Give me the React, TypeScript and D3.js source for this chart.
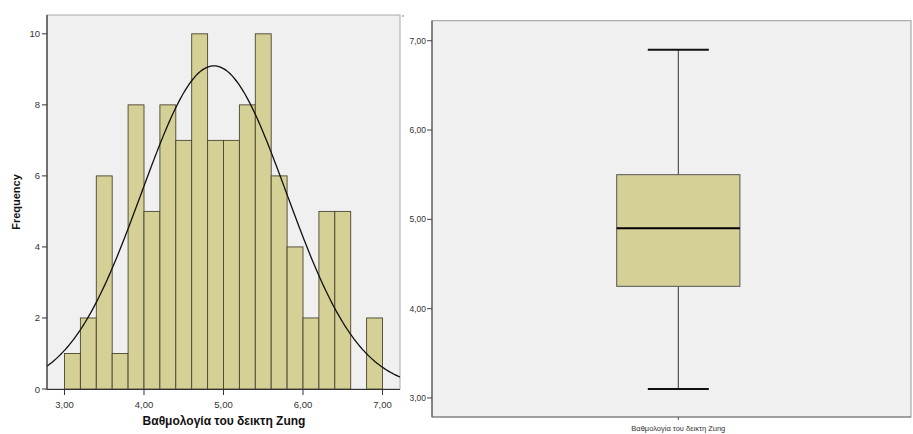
import React from 'react';
import * as d3 from 'd3';

// histogram bins (lower edge) and counts
const binStarts = [3.0, 3.2, 3.4, 3.6, 3.8, 4.0, 4.2, 4.4, 4.6, 4.8, 5.0, 5.2, 5.4, 5.6, 5.8, 6.0, 6.2, 6.4, 6.6, 6.8];
const binCounts = [1, 2, 6, 1, 8, 5, 8, 7, 10, 7, 7, 8, 10, 6, 4, 2, 5, 5, 0, 2];
const binWidth = 0.2;

// normal curve parameters
const sampleN = 104;
const sampleMean = 4.88;
const sampleSd = 0.912;

// box plot summary
const boxStats = { min: 3.1, q1: 4.25, median: 4.9, q3: 5.5, max: 6.9 };

const histXTicks = [3, 4, 5, 6, 7];
const histYTicks = [0, 2, 4, 6, 8, 10];
const boxYTicks = [3, 4, 5, 6, 7];

const xTitle = 'Βαθμολογία του δεικτη Zung';
const yTitle = 'Frequency';

const font = 'Arial, "Liberation Sans", sans-serif';
const barFill = '#d5d096';
const plotBg = '#f0f0f0';

const fmt = (v: number) => v.toFixed(2).replace('.', ',');

export default function App() {
  // histogram panel
  const hx = d3.scaleLinear().domain([2.78, 7.22]).range([47, 400]);
  const hy = d3.scaleLinear().domain([0, 10.53]).range([389, 15]);

  const curvePts = d3.range(2.78, 7.2201, 0.02).map((v) => {
    const z = (v - sampleMean) / sampleSd;
    const f = (sampleN * binWidth) / (sampleSd * Math.sqrt(2 * Math.PI)) * Math.exp(-0.5 * z * z);
    return [v, f] as [number, number];
  });
  const curve = d3.line<[number, number]>()
    .x((d) => hx(d[0]))
    .y((d) => hy(d[1]))
    .curve(d3.curveBasis)(curvePts);

  // box plot panel
  const by = d3.scaleLinear().domain([2.787, 7.224]).range([417, 20.7]);
  const bx = 678.3;
  const boxHalf = 61.6;
  const capHalf = 30.5;

  return (
    <div style={{ position: 'absolute', left: 0, top: 0 }}>
      <svg width={913} height={434} style={{ display: 'block', background: '#fff' }} fontFamily={font}>
        {/* ---- histogram ---- */}
        <rect x={hx.range()[0]} y={hy.range()[1]} width={hx.range()[1] - hx.range()[0]} height={hy.range()[0] - hy.range()[1]}
          fill={plotBg} stroke="#a8a8a8" strokeWidth={1} />
        {binStarts.map((b, i) => binCounts[i] > 0 && (
          <rect key={i} x={hx(b)} y={hy(binCounts[i])} width={hx(b + binWidth) - hx(b)} height={hy(0) - hy(binCounts[i])}
            fill={barFill} stroke="#4a4530" strokeWidth={0.9} />
        ))}
        <path d={curve || ''} fill="none" stroke="#111" strokeWidth={1.3} />
        <line x1={47} x2={47} y1={15} y2={389.5} stroke="#333" strokeWidth={1.2} />
        <line x1={47} x2={400} y1={389.5} y2={389.5} stroke="#333" strokeWidth={1.2} />
        {histYTicks.map((t) => (
          <g key={t}>
            <line x1={42} x2={47} y1={hy(t)} y2={hy(t)} stroke="#333" />
            <text x={40} y={hy(t) + 3.5} fontSize={9.5} textAnchor="end" fill="#333">{t}</text>
          </g>
        ))}
        {histXTicks.map((t) => (
          <g key={t}>
            <line x1={hx(t)} x2={hx(t)} y1={389.5} y2={395} stroke="#333" />
            <text x={hx(t)} y={408} fontSize={9.5} textAnchor="middle" fill="#333">{fmt(t)}</text>
          </g>
        ))}
        <text transform={`translate(20,${(15 + 389) / 2}) rotate(-90)`} fontSize={11} fontWeight="bold" textAnchor="middle" fill="#111">{yTitle}</text>
        <text x={224} y={425} fontSize={12} fontWeight="bold" textAnchor="middle" fill="#111">{xTitle}</text>
        <circle cx={403} cy={16} r={0.7} fill="#555" />

        {/* ---- box plot ---- */}
        <rect x={432} y={20.7} width={479} height={396.3} fill={plotBg} stroke="#999" strokeWidth={1} />
        <line x1={432} x2={432} y1={20.7} y2={417} stroke="#555" strokeWidth={1.2} />
        <line x1={432} x2={911} y1={417} y2={417} stroke="#777" strokeWidth={1} />
        {boxYTicks.map((t) => (
          <g key={t}>
            <line x1={427} x2={432} y1={by(t)} y2={by(t)} stroke="#444" />
            <text x={426} y={by(t) + 3} fontSize={8.5} textAnchor="end" fill="#333">{fmt(t)}</text>
          </g>
        ))}
        <line x1={bx} x2={bx} y1={by(boxStats.max)} y2={by(boxStats.q3)} stroke="#333" strokeWidth={1} />
        <line x1={bx} x2={bx} y1={by(boxStats.q1)} y2={by(boxStats.min)} stroke="#333" strokeWidth={1} />
        <line x1={bx - capHalf} x2={bx + capHalf} y1={by(boxStats.max)} y2={by(boxStats.max)} stroke="#111" strokeWidth={2} />
        <line x1={bx - capHalf} x2={bx + capHalf} y1={by(boxStats.min)} y2={by(boxStats.min)} stroke="#111" strokeWidth={2} />
        <rect x={bx - boxHalf} y={by(boxStats.q3)} width={boxHalf * 2} height={by(boxStats.q1) - by(boxStats.q3)}
          fill={barFill} stroke="#555" strokeWidth={1} />
        <line x1={bx - boxHalf} x2={bx + boxHalf} y1={by(boxStats.median)} y2={by(boxStats.median)} stroke="#000" strokeWidth={2.2} />
        <line x1={bx} x2={bx} y1={417} y2={420} stroke="#555" />
        <text x={bx} y={431} fontSize={7.5} textAnchor="middle" fill="#333">{xTitle}</text>
      </svg>
    </div>
  );
}
